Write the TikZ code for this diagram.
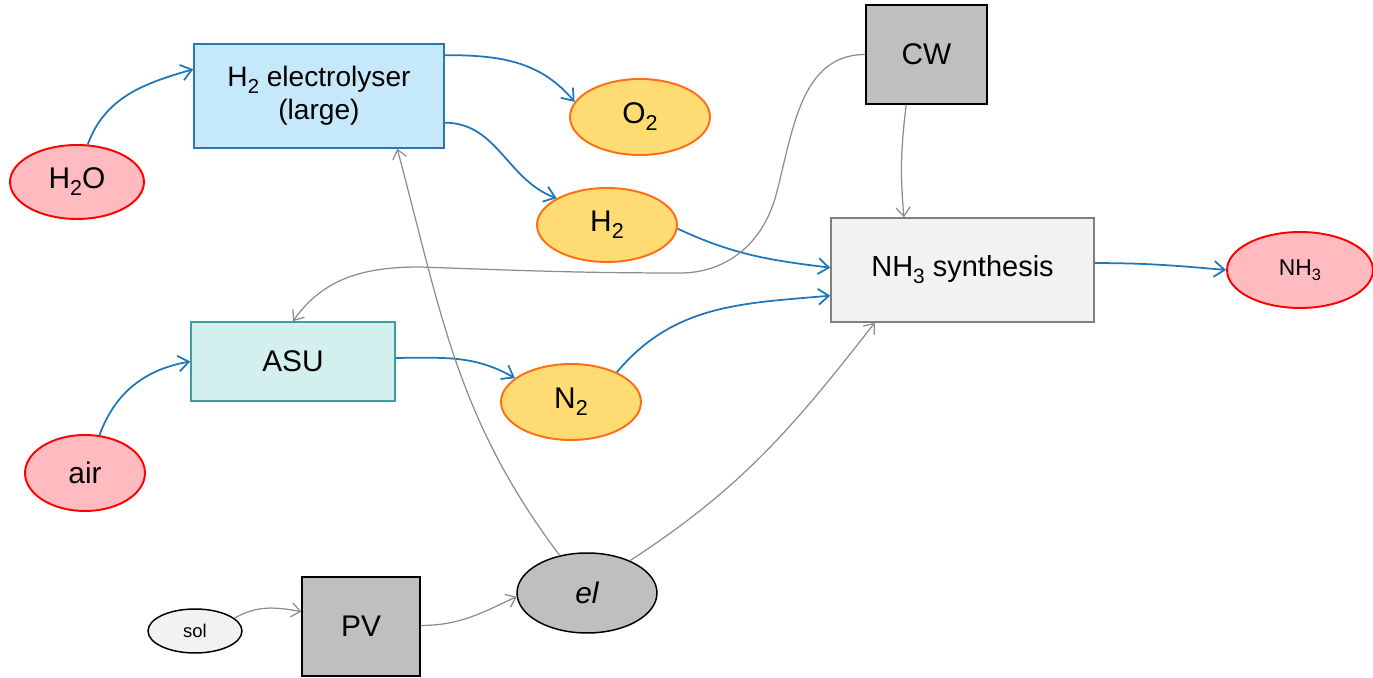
\documentclass[tikz,border=0pt]{standalone}
\usepackage{fontspec}
\setmainfont{Liberation Sans}
\usetikzlibrary{shapes.geometric,arrows.meta}

\definecolor{elfill}{HTML}{C5E9FB}
\definecolor{elline}{HTML}{2E75B6}
\definecolor{pinkfill}{HTML}{FFBBBF}
\definecolor{redline}{HTML}{FF0000}
\definecolor{yellowfill}{HTML}{FFDC73}
\definecolor{orangeline}{HTML}{FF6E14}
\definecolor{asufill}{HTML}{D3EFEE}
\definecolor{asuline}{HTML}{3A9FA0}
\definecolor{utilgray}{HTML}{BFBFBF}
\definecolor{synfill}{HTML}{F2F2F2}
\definecolor{synline}{HTML}{808080}
\definecolor{flowblue}{HTML}{1F77B8}
\definecolor{arrowgray}{HTML}{8C8C8C}

\newcommand{\lowsub}[1]{\raisebox{-0.45ex}{\scalebox{0.72}{#1}}}

\tikzset{
  box/.style={draw, rectangle, line width=0.85pt, inner sep=0pt, align=center},
  blob/.style={draw, ellipse, line width=1.1pt, inner sep=0pt},
  feed/.style={blob, fill=pinkfill, draw=redline},
  inter/.style={blob, fill=yellowfill, draw=orangeline},
  flow/.style={draw=flowblue, line width=1pt, -{Straight Barb[length=6pt,width=9pt]}},
  power/.style={draw=arrowgray, line width=0.7pt, -{Straight Barb[length=5pt,width=8pt]}},
  big/.style={font=\fontsize{17}{20}\selectfont}
}

\begin{document}
\begin{tikzpicture}[x=0.02cm,y=0.02cm]
\useasboundingbox (0,0) rectangle (1373,678);
% units
\node[box, fill=elfill, draw=elline, minimum width=5cm, minimum height=2.08cm, font=\fontsize{16}{19}\selectfont] (elyser) at (319,582) {H\lowsub{2} electrolyser\\(large)};
\node[box, fill=asufill, draw=asuline, minimum width=4.08cm, minimum height=1.58cm, big] (asu) at (293,316.5) {ASU};
\node[box, fill=synfill, draw=synline, minimum width=5.26cm, minimum height=2.08cm, font=\fontsize{16.5}{20}\selectfont] (syn) at (962.5,408) {NH\lowsub{3} synthesis};
\node[box, fill=utilgray, draw=black, minimum width=2.42cm, minimum height=1.98cm, big] (cw) at (926.5,623.5) {CW};
\node[box, fill=utilgray, draw=black, minimum width=2.36cm, minimum height=1.98cm, big] (pv) at (361,51.5) {PV};
% streams
\node[feed, minimum width=2.68cm, minimum height=1.48cm, big] (h2o) at (77,496) {H\lowsub{2}O};
\node[feed, minimum width=2.4cm, minimum height=1.52cm, big] (air) at (85,205) {air};
\node[feed, minimum width=2.92cm, minimum height=1.52cm, font=\fontsize{13}{15}\selectfont] (nh3) at (1300,408) {NH\lowsub{3}};
\node[inter, minimum width=2.8cm, minimum height=1.52cm, big] (o2) at (640,561) {O\lowsub{2}};
\node[inter, minimum width=2.8cm, minimum height=1.48cm, big] (h2) at (607,453) {H\lowsub{2}};
\node[inter, minimum width=2.8cm, minimum height=1.52cm, big] (n2) at (571,276) {N\lowsub{2}};
\node[blob, fill=utilgray, draw=black, line width=0.85pt, minimum width=2.8cm, minimum height=1.6cm, big] (el) at (587,85) {\itshape el};
\node[blob, fill=synfill, draw=black, line width=0.85pt, minimum width=1.88cm, minimum height=0.88cm, font=\fontsize{10.5}{12}\selectfont] (sol) at (195,47) {sol};
% material flows
\draw[flow] (h2o.74) to[out=70,in=196] (elyser.168);
\draw[flow] (elyser.18) to[out=0,in=130] (o2.167);
\draw[flow] (elyser.-12) to[out=0,in=160] (h2.152);
\draw[flow] (h2.-3) to[out=-25,in=173] (syn.179);
\draw[flow] (air.69) to[out=70,in=190] (asu.west);
\draw[flow] (asu.2) to[out=0,in=150] (n2.157);
\draw[flow] (n2.33) to[out=50,in=185] (syn.191);
\draw[flow] (syn.3) to[out=0,in=175] (nh3.west);
% utilities
\draw[power] (cw.248) to[out=-97,in=95] (syn.138);
\draw[power] (cw.west) to[out=180,in=75] (776,483) to[out=-105,in=0] (680,405) to[out=180,in=-2] (420,411) to[out=180,in=55] (asu.north);
\draw[power] (el.126) to[out=127,in=-75] (elyser.-34);
\draw[power] (el.37) to[out=33,in=232] (syn.211);
\draw[power] (sol.18) to[out=30,in=170] (pv.166);
\draw[power] (pv.1) to[out=0,in=205] (el.183);
%
\end{tikzpicture}
\end{document}
